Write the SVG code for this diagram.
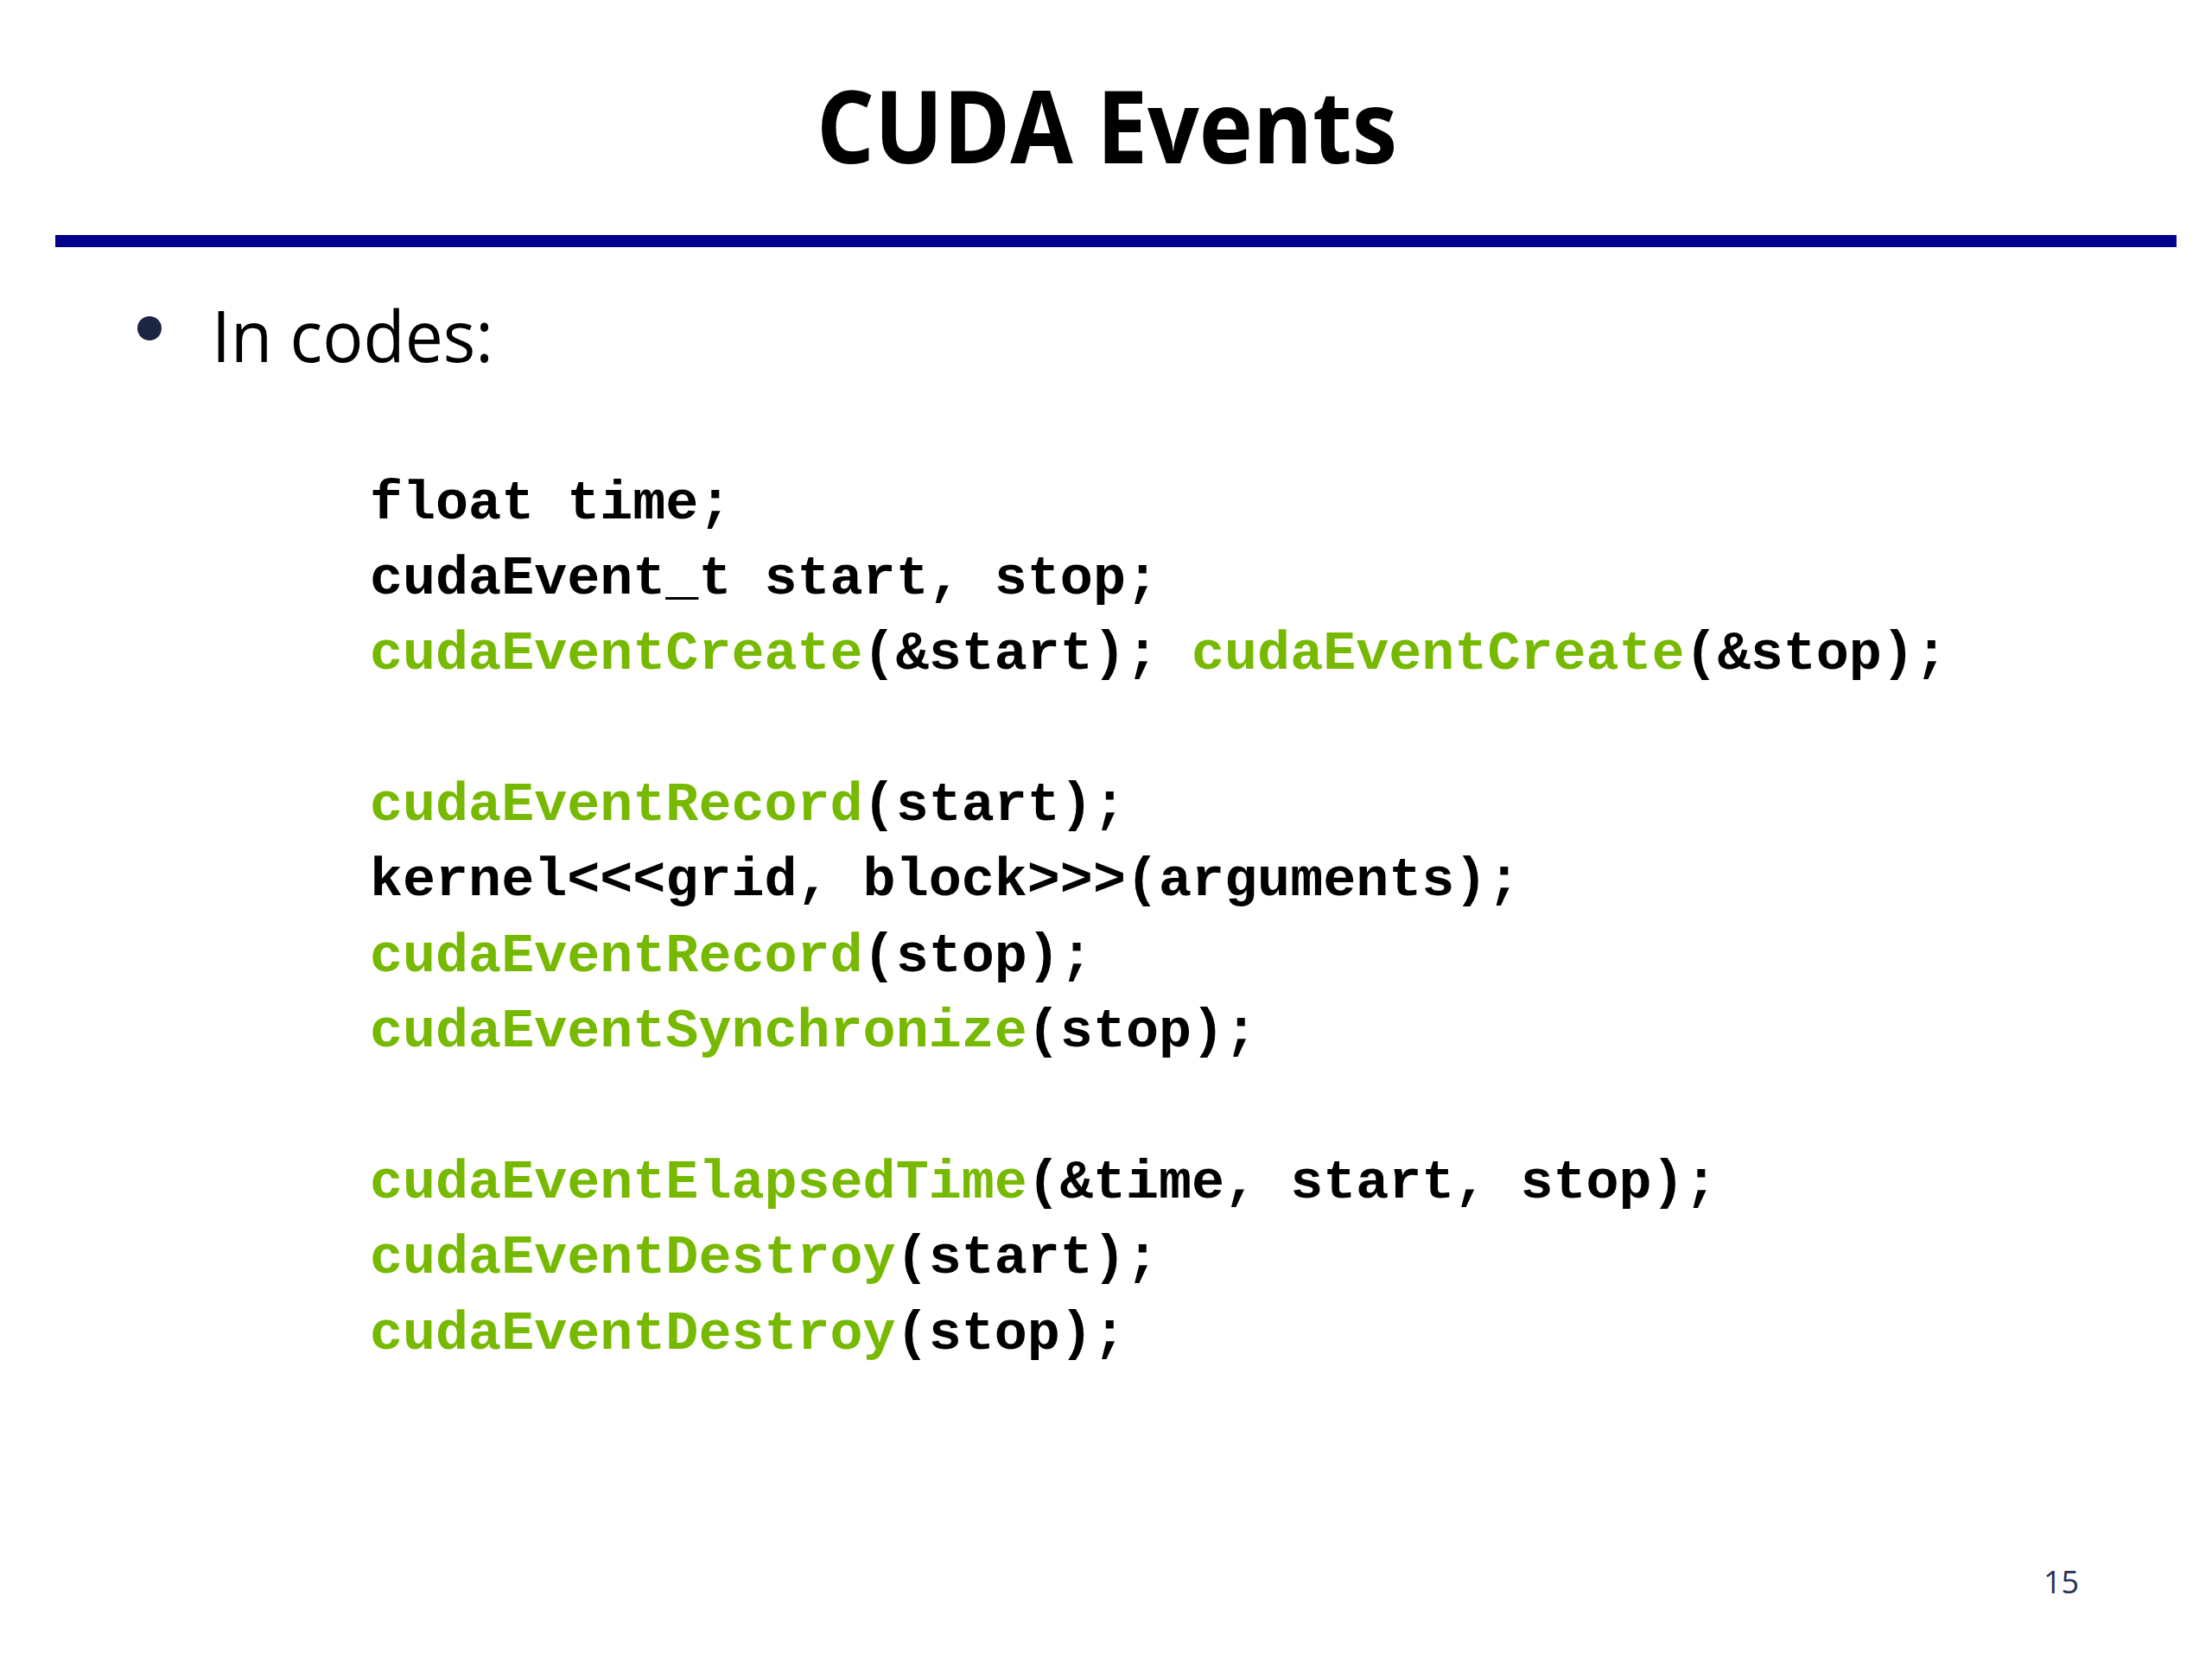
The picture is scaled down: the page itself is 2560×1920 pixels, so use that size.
<svg xmlns="http://www.w3.org/2000/svg" width="2560" height="1920" viewBox="0 0 2560 1920">
<style>
.code{font-family:"Liberation Mono","Courier New",monospace;font-weight:bold;font-size:63.4px;fill:#000;white-space:pre}
.fn{fill:#76B900}
.title{font-family:"Open Sans","Noto Sans",sans-serif;font-weight:bold;font-size:116px;fill:#000}
.body{font-family:"Open Sans","Noto Sans",sans-serif;font-size:83px;fill:#000}
.pg{font-family:"Open Sans","Noto Sans",sans-serif;font-size:36px;fill:#253252}
</style>
<rect x="0" y="0" width="2560" height="1920" fill="#fff"/>
<g id="title">
<text class="title" x="945" y="189" textLength="672" lengthAdjust="spacingAndGlyphs">CUDA Events</text>
</g>
<g id="rule">
<rect x="64" y="272" width="2466" height="14" fill="#00008B" transform="translate(64 0) scale(0.9955 1) translate(-64 0)"/>
</g>
<g id="bullet">
<circle cx="173" cy="380" r="14" fill="#1b2645"/>
<text class="body" x="245" y="419" textLength="326" lengthAdjust="spacingAndGlyphs">In codes:</text>
</g>
<g id="code">
<text class="code" x="428" y="600">float time;</text>
<text class="code" x="428" y="687">cudaEvent_t start, stop;</text>
<text class="code" x="428" y="774"><tspan class="fn">cudaEventCreate</tspan>(&amp;start); <tspan class="fn">cudaEventCreate</tspan>(&amp;stop);</text>
<text class="code" x="428" y="949"><tspan class="fn">cudaEventRecord</tspan>(start);</text>
<text class="code" x="428" y="1036">kernel&lt;&lt;&lt;grid, block&gt;&gt;&gt;(arguments);</text>
<text class="code" x="428" y="1124"><tspan class="fn">cudaEventRecord</tspan>(stop);</text>
<text class="code" x="428" y="1211"><tspan class="fn">cudaEventSynchronize</tspan>(stop);</text>
<text class="code" x="428" y="1386"><tspan class="fn">cudaEventElapsedTime</tspan>(&amp;time, start, stop);</text>
<text class="code" x="428" y="1473"><tspan class="fn">cudaEventDestroy</tspan>(start);</text>
<text class="code" x="428" y="1561"><tspan class="fn">cudaEventDestroy</tspan>(stop);</text>
</g>
<g id="page-number">
<text class="pg" x="2365" y="1844">15</text>
</g>
</svg>
